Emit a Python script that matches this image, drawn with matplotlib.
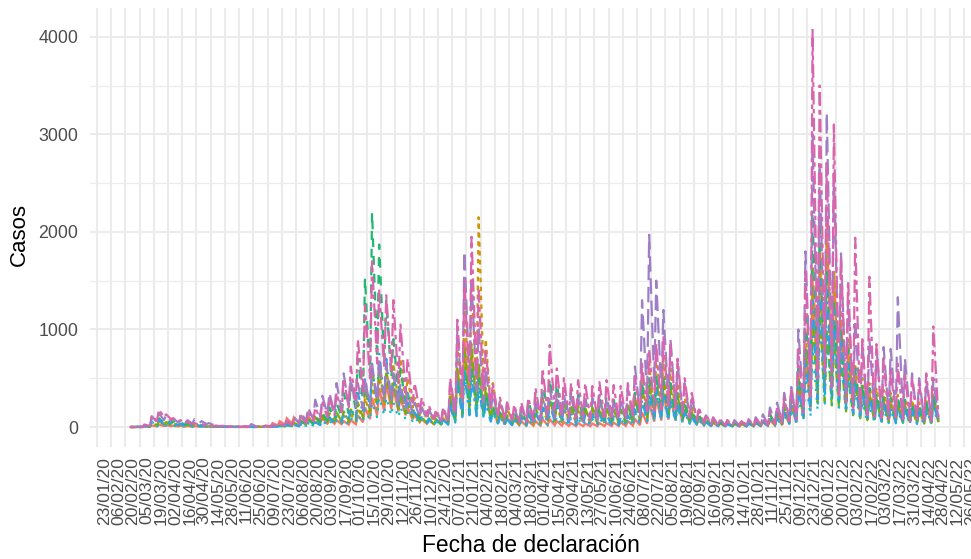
import numpy as np
import pandas as pd
import matplotlib
matplotlib.use("Agg")
import matplotlib.pyplot as plt

plt.rcParams['font.family'] = ['Liberation Sans', 'DejaVu Sans']

# ---------------- data (weekly high / weekend low) -------------
week_starts = pd.date_range('2020-02-24', periods=114, freq='7D')

provinces = ['Almería', 'Cádiz', 'Córdoba', 'Granada', 'Huelva', 'Jaén', 'Málaga', 'Sevilla']

al_high = [0, 0, 4, 15, 25, 20, 15, 12, 10, 8, 5, 4, 3, 2,
           2, 2, 3, 3, 5, 15, 40, 60, 90, 100, 120, 110, 100, 90, 80,
           70, 60, 70, 120, 200, 300, 400, 450, 400, 300, 200, 120, 80, 70, 70, 90,
           300, 600, 900, 800, 600, 350, 180, 120,
           100, 80, 60, 60, 60, 80, 80, 60, 50, 40, 40, 35, 35, 40, 40, 45, 50, 60,
           80, 150, 250, 300, 350, 300, 250, 180, 120, 80, 50, 40,
           35, 30, 30, 30, 35, 40, 50, 70,
           100, 150, 220, 400, 800, 1500, 1800, 2120, 1600, 1100, 800, 550, 400, 350, 300, 280, 260, 250, 230, 220, 200, 220, 280]
al_low = [0, 0, 2, 6, 10, 8, 6, 5, 4, 3, 2, 2, 1, 1,
          1, 1, 1, 1, 2, 6, 16, 24, 36, 40, 48, 44, 40, 36, 32,
          28, 24, 28, 48, 80, 120, 160, 180, 160, 120, 80, 48, 32, 28, 28, 36,
          65, 130, 200, 175, 130, 75, 40, 26,
          22, 18, 13, 13, 13, 18, 18, 13, 11, 9, 9, 8, 8, 9, 9, 10, 11, 13,
          18, 33, 55, 65, 75, 65, 55, 40, 26, 18, 11, 9,
          8, 7, 7, 7, 8, 9, 11, 15,
          22, 33, 48, 90, 175, 330, 390, 460, 350, 240, 175, 120, 88, 77, 66, 61, 57, 55, 50, 48, 44, 48, 61]

ca_high = [0, 1, 10, 40, 60, 50, 40, 30, 25, 20, 12, 8, 5, 3,
           1, 1, 1, 2, 3, 5, 10, 15, 20, 40, 60, 70, 80, 90, 100,
           110, 120, 130, 200, 300, 450, 550, 600, 650, 700, 500, 300, 200, 150, 120, 150,
           400, 800, 1300, 1500, 2150, 900, 450, 250,
           200, 150, 120, 120, 150, 200, 250, 220, 200, 180, 170, 160, 160, 170, 180, 180, 200, 250,
           350, 500, 650, 760, 700, 600, 450, 300, 200, 130, 90, 70,
           60, 50, 50, 50, 60, 70, 90, 130,
           130, 200, 300, 550, 1000, 1700, 1800, 1990, 1600, 1200, 900, 650, 500, 450, 400, 380, 350, 330, 300, 280, 250, 280, 350]
ca_low = [0, 0, 4, 16, 25, 20, 16, 12, 10, 8, 5, 3, 2, 1,
          0, 0, 0, 1, 1, 2, 4, 6, 8, 16, 24, 28, 32, 36, 40,
          45, 50, 55, 80, 120, 180, 220, 240, 260, 280, 200, 120, 80, 60, 48, 60,
          90, 180, 280, 330, 450, 200, 100, 55,
          45, 33, 26, 26, 33, 45, 55, 48, 45, 40, 37, 35, 35, 37, 40, 40, 45, 55,
          75, 110, 140, 165, 150, 130, 100, 65, 45, 28, 20, 15,
          13, 11, 11, 11, 13, 15, 20, 28,
          28, 45, 65, 120, 220, 370, 390, 430, 350, 260, 200, 140, 110, 100, 88, 83, 77, 72, 66, 61, 55, 61, 77]

co_high = [0, 1, 10, 40, 60, 50, 40, 30, 25, 20, 12, 8, 5, 3,
           2, 1, 1, 1, 2, 5, 10, 15, 25, 40, 60, 80, 100, 120, 140,
           150, 160, 180, 250, 400, 600, 650, 550, 450, 350, 250, 150, 100, 80, 70, 80,
           300, 600, 800, 850, 650, 400, 220, 150,
           120, 110, 120, 150, 200, 300, 300, 280, 250, 230, 220, 200, 200, 200, 200, 180, 180, 200,
           300, 400, 450, 500, 480, 420, 320, 220, 150, 100, 70, 50,
           40, 35, 35, 35, 40, 50, 70, 100,
           120, 200, 300, 500, 800, 1100, 1200, 1000, 900, 700, 550, 450, 350, 300, 280, 250, 230, 220, 200, 180, 170, 200, 250]
co_low = [0, 0, 4, 16, 25, 20, 16, 12, 10, 8, 5, 3, 2, 1,
          1, 0, 0, 0, 1, 2, 4, 6, 10, 16, 24, 32, 40, 50, 55,
          60, 65, 70, 100, 160, 240, 260, 220, 180, 140, 100, 60, 40, 30, 28, 30,
          70, 130, 170, 180, 140, 90, 50, 35,
          28, 25, 28, 35, 45, 65, 65, 60, 55, 50, 48, 45, 45, 45, 45, 40, 40, 45,
          65, 90, 100, 110, 105, 90, 70, 50, 35, 22, 15, 12,
          9, 8, 8, 8, 9, 11, 15, 22,
          25, 45, 65, 110, 200, 250, 260, 220, 200, 160, 120, 90, 70, 60, 56, 50, 46, 44, 40, 36, 34, 40, 50]

gr_high = [0, 2, 15, 70, 90, 80, 60, 50, 40, 30, 20, 12, 8, 5,
           3, 2, 2, 2, 3, 5, 10, 20, 30, 40, 60, 80, 120, 150, 200,
           250, 350, 450, 700, 1530, 2200, 1870, 1300, 900, 600, 350, 200, 120, 90, 80, 90,
           250, 500, 620, 620, 500, 350, 200, 150,
           130, 150, 200, 280, 350, 500, 500, 450, 400, 350, 330, 300, 280, 300, 320, 280, 260, 250,
           350, 450, 500, 550, 500, 450, 350, 250, 180, 120, 80, 60,
           50, 40, 40, 40, 50, 70, 90, 130,
           150, 250, 350, 600, 1200, 2200, 2100, 1600, 1300, 1000, 800, 600, 450, 400, 350, 320, 300, 300, 280, 250, 220, 250, 350]
gr_low = [0, 1, 6, 30, 40, 35, 25, 20, 16, 12, 8, 5, 3, 2,
          1, 1, 1, 1, 1, 2, 4, 8, 12, 16, 24, 32, 50, 60, 80,
          100, 140, 180, 280, 500, 700, 650, 500, 350, 240, 140, 80, 50, 35, 30, 35,
          60, 120, 150, 150, 120, 80, 50, 35,
          30, 35, 45, 60, 80, 110, 110, 100, 90, 80, 75, 70, 65, 70, 70, 65, 60, 55,
          80, 100, 110, 120, 110, 100, 80, 55, 40, 25, 18, 14,
          12, 10, 10, 10, 12, 15, 20, 30,
          35, 55, 80, 130, 250, 400, 380, 300, 250, 200, 160, 120, 90, 80, 70, 65, 60, 60, 55, 50, 45, 50, 70]

hu_high = [0, 0, 3, 12, 20, 15, 12, 10, 8, 6, 4, 3, 2, 1,
           1, 1, 1, 1, 2, 3, 5, 10, 15, 20, 30, 40, 50, 60, 60,
           70, 80, 90, 120, 180, 250, 300, 300, 250, 200, 150, 100, 80, 60, 50, 60,
           250, 500, 600, 550, 400, 250, 150, 100,
           80, 70, 60, 70, 80, 100, 120, 110, 100, 90, 80, 80, 80, 90, 90, 80, 80, 90,
           150, 250, 300, 350, 300, 250, 200, 150, 100, 70, 50, 40,
           35, 30, 30, 30, 35, 40, 50, 70,
           80, 120, 180, 300, 500, 800, 1100, 1000, 900, 700, 500, 350, 250, 220, 200, 180, 170, 160, 150, 140, 130, 150, 200]
hu_low = [0, 0, 1, 5, 8, 6, 5, 4, 3, 2, 2, 1, 1, 0,
          0, 0, 0, 0, 1, 1, 2, 4, 6, 8, 12, 16, 20, 24, 24,
          28, 32, 36, 48, 72, 100, 120, 120, 100, 80, 60, 40, 32, 24, 20, 24,
          55, 110, 130, 120, 90, 55, 33, 22,
          18, 15, 13, 15, 18, 22, 26, 24, 22, 20, 18, 18, 18, 20, 20, 18, 18, 20,
          33, 55, 65, 75, 65, 55, 44, 33, 22, 15, 11, 9,
          8, 7, 7, 7, 8, 9, 11, 15,
          18, 26, 40, 65, 110, 175, 240, 220, 200, 150, 110, 75, 55, 48, 44, 40, 37, 35, 33, 31, 29, 33, 44]

ja_high = [0, 1, 12, 50, 70, 60, 45, 35, 30, 25, 15, 10, 6, 3,
           2, 1, 1, 1, 2, 3, 5, 10, 15, 20, 30, 40, 50, 70, 100,
           120, 150, 200, 350, 500, 600, 750, 700, 550, 400, 250, 150, 100, 80, 60, 70,
           200, 450, 550, 500, 400, 250, 150, 100,
           80, 80, 100, 130, 150, 200, 250, 230, 200, 150, 130, 120, 130, 130, 120, 110, 100, 120,
           180, 280, 350, 380, 350, 300, 220, 150, 100, 70, 50, 40,
           35, 30, 30, 30, 35, 40, 60, 80,
           90, 150, 250, 400, 700, 1300, 1500, 1400, 1200, 900, 650, 450, 350, 300, 250, 230, 220, 200, 180, 170, 160, 180, 250]
ja_low = [0, 0, 5, 20, 30, 25, 18, 14, 12, 10, 6, 4, 2, 1,
          1, 0, 0, 0, 1, 1, 2, 4, 6, 8, 12, 16, 20, 28, 40,
          50, 60, 80, 140, 200, 240, 300, 280, 220, 160, 100, 60, 40, 30, 24, 28,
          45, 100, 120, 110, 90, 55, 35, 22,
          18, 18, 22, 28, 33, 45, 55, 50, 45, 33, 28, 26, 28, 28, 26, 24, 22, 26,
          40, 60, 75, 80, 75, 65, 48, 33, 22, 15, 11, 9,
          8, 7, 7, 7, 8, 9, 13, 18,
          20, 33, 55, 90, 150, 280, 320, 300, 260, 190, 140, 100, 75, 65, 55, 50, 48, 44, 40, 37, 35, 40, 55]

ma_high = [0, 5, 30, 110, 140, 120, 90, 80, 70, 80, 60, 40, 20, 12,
           5, 5, 8, 30, 8, 10, 20, 40, 60, 100, 150, 200, 280, 320, 350,
           450, 550, 500, 450, 500, 650, 700, 650, 550, 450, 350, 250, 200, 180, 150, 180,
           450, 1000, 1800, 1500, 1000, 600, 350, 280,
           250, 200, 200, 220, 250, 350, 400, 350, 330, 320, 300, 280, 300, 330, 300, 280, 300, 400,
           620, 1300, 1970, 1500, 1200, 900, 650, 450, 300, 180, 120, 90,
           80, 70, 70, 80, 80, 100, 130, 200,
           250, 350, 410, 1000, 1800, 3000, 2700, 3220, 2600, 1780, 1300, 1100, 850, 900, 800, 820, 800, 1330, 700, 550, 500, 480, 500]
ma_low = [0, 2, 12, 50, 70, 60, 45, 40, 35, 40, 30, 20, 10, 5,
          2, 2, 3, 5, 3, 4, 8, 15, 25, 40, 60, 80, 110, 130, 140,
          180, 220, 200, 180, 200, 260, 280, 260, 220, 180, 140, 100, 80, 70, 60, 70,
          120, 250, 450, 380, 250, 150, 90, 70,
          60, 50, 50, 55, 60, 80, 90, 80, 75, 70, 65, 60, 65, 70, 65, 60, 65, 90,
          140, 300, 450, 350, 270, 200, 150, 100, 70, 40, 25, 20,
          15, 15, 15, 15, 15, 20, 25, 40,
          50, 70, 80, 200, 350, 500, 550, 600, 500, 350, 250, 200, 150, 150, 130, 130, 130, 150, 110, 90, 80, 80, 80]

se_high = [0, 3, 25, 120, 180, 130, 90, 70, 55, 40, 30, 20, 15, 10,
           6, 5, 5, 8, 8, 12, 20, 30, 50, 70, 100, 150, 200, 250, 300,
           350, 500, 620, 900, 1250, 1700, 1400, 1350, 1300, 1050, 700, 450, 300, 220, 180, 200,
           500, 1100, 1500, 1950, 1400, 800, 450, 300,
           250, 230, 250, 300, 400, 600, 840, 600, 500, 450, 480, 450, 420, 460, 480, 430, 420, 450,
           520, 650, 800, 850, 920, 850, 700, 500, 350, 200, 130, 100,
           80, 70, 60, 60, 70, 80, 100, 150,
           200, 300, 400, 800, 1600, 4080, 3500, 2700, 3100, 1750, 1500, 1940, 900, 1540, 850, 700, 600, 650, 550, 500, 450, 550, 1030]
se_low = [0, 1, 10, 60, 100, 80, 50, 40, 30, 20, 15, 10, 6, 4,
          2, 2, 2, 3, 3, 5, 8, 12, 20, 30, 40, 60, 80, 100, 120,
          150, 200, 250, 350, 500, 650, 600, 550, 450, 350, 250, 160, 110, 80, 60, 70,
          150, 300, 400, 500, 350, 200, 100, 70,
          60, 50, 60, 70, 100, 150, 180, 130, 110, 100, 100, 90, 90, 100, 100, 90, 90, 100,
          110, 140, 160, 180, 200, 180, 150, 100, 70, 40, 25, 20,
          15, 15, 12, 12, 15, 15, 20, 30,
          40, 60, 80, 150, 300, 500, 600, 400, 300, 250, 200, 150, 120, 100, 90, 80, 70, 70, 60, 60, 50, 60, 100]

highs = [al_high, ca_high, co_high, gr_high, hu_high, ja_high, ma_high, se_high]
lows = [al_low, ca_low, co_low, gr_low, hu_low, ja_low, ma_low, se_low]

colors = ['#F8766D', '#CD9600', '#7CAE00', '#1FB870', '#13BCCB', '#2FA2E6', '#9E7FC6', '#D966AC']
dashes = [None, (2, 2), (4, 2), (4, 4), (1, 3), (1, 3, 4, 3), (7, 3), (2, 2, 6, 2)]

tick_dates = pd.date_range('2020-01-23', '2022-05-26', freq='14D')
tick_labels = [d.strftime('%d/%m/%y') for d in tick_dates]

# ---------------- figure -------------
W, H = 971, 559
fig = plt.figure(figsize=(W / 100, H / 100), dpi=100)
fig.patch.set_facecolor('white')
ax = fig.add_axes([90 / W, 1 - 447 / H, 881 / W, 439 / H])

for name, hi, lo, col, ds in zip(provinces, highs, lows, colors, dashes):
    n = min(len(hi), len(lo), len(week_starts))
    xs, ys = [], []
    for i in range(n):
        xs.append(week_starts[i] + pd.Timedelta(days=1))
        ys.append(hi[i])
        xs.append(week_starts[i] + pd.Timedelta(days=6))
        ys.append(lo[i])
    line, = ax.plot(xs, ys, color=col, lw=1.6, label=name, solid_joinstyle='miter')
    if ds is not None:
        line.set_dashes(ds)

x0 = pd.Timestamp('2020-01-23')
ax.set_xlim(x0 - pd.Timedelta(days=6.9), x0 + pd.Timedelta(days=861.1))
ax.set_ylim(-205, 4295)

ax.set_xticks(tick_dates)
ax.set_xticklabels(tick_labels)
ax.set_yticks([0, 1000, 2000, 3000, 4000])
ax.set_yticks([500, 1500, 2500, 3500], minor=True)
ax.set_yticklabels(['0', '1000', '2000', '3000', '4000'])

ax.grid(which='major', color='#EBEBEB', lw=1.5)
ax.grid(which='minor', axis='y', color='#EBEBEB', lw=0.8)
ax.set_axisbelow(True)
for s in ax.spines.values():
    s.set_visible(False)

ax.tick_params(axis='x', which='both', length=0, pad=7.0, labelsize=12.6, labelcolor='#4D4D4D')
ax.tick_params(axis='y', which='both', length=0, pad=8.6, labelsize=12.8, labelcolor='#4D4D4D')
for lab in ax.get_xticklabels():
    lab.set_rotation(90)
    lab.set_ha('left')
    lab.set_va('top')

fig.text(19 / W, 1 - 235 / H, 'Casos', rotation=90, ha='center', va='center', fontsize=16, color='black')
fig.text(530.5 / W, 1 - 552 / H, 'Fecha de declaración', ha='center', va='baseline', fontsize=16.4, color='black')

fig.savefig('out.png', dpi=100, facecolor='white')
